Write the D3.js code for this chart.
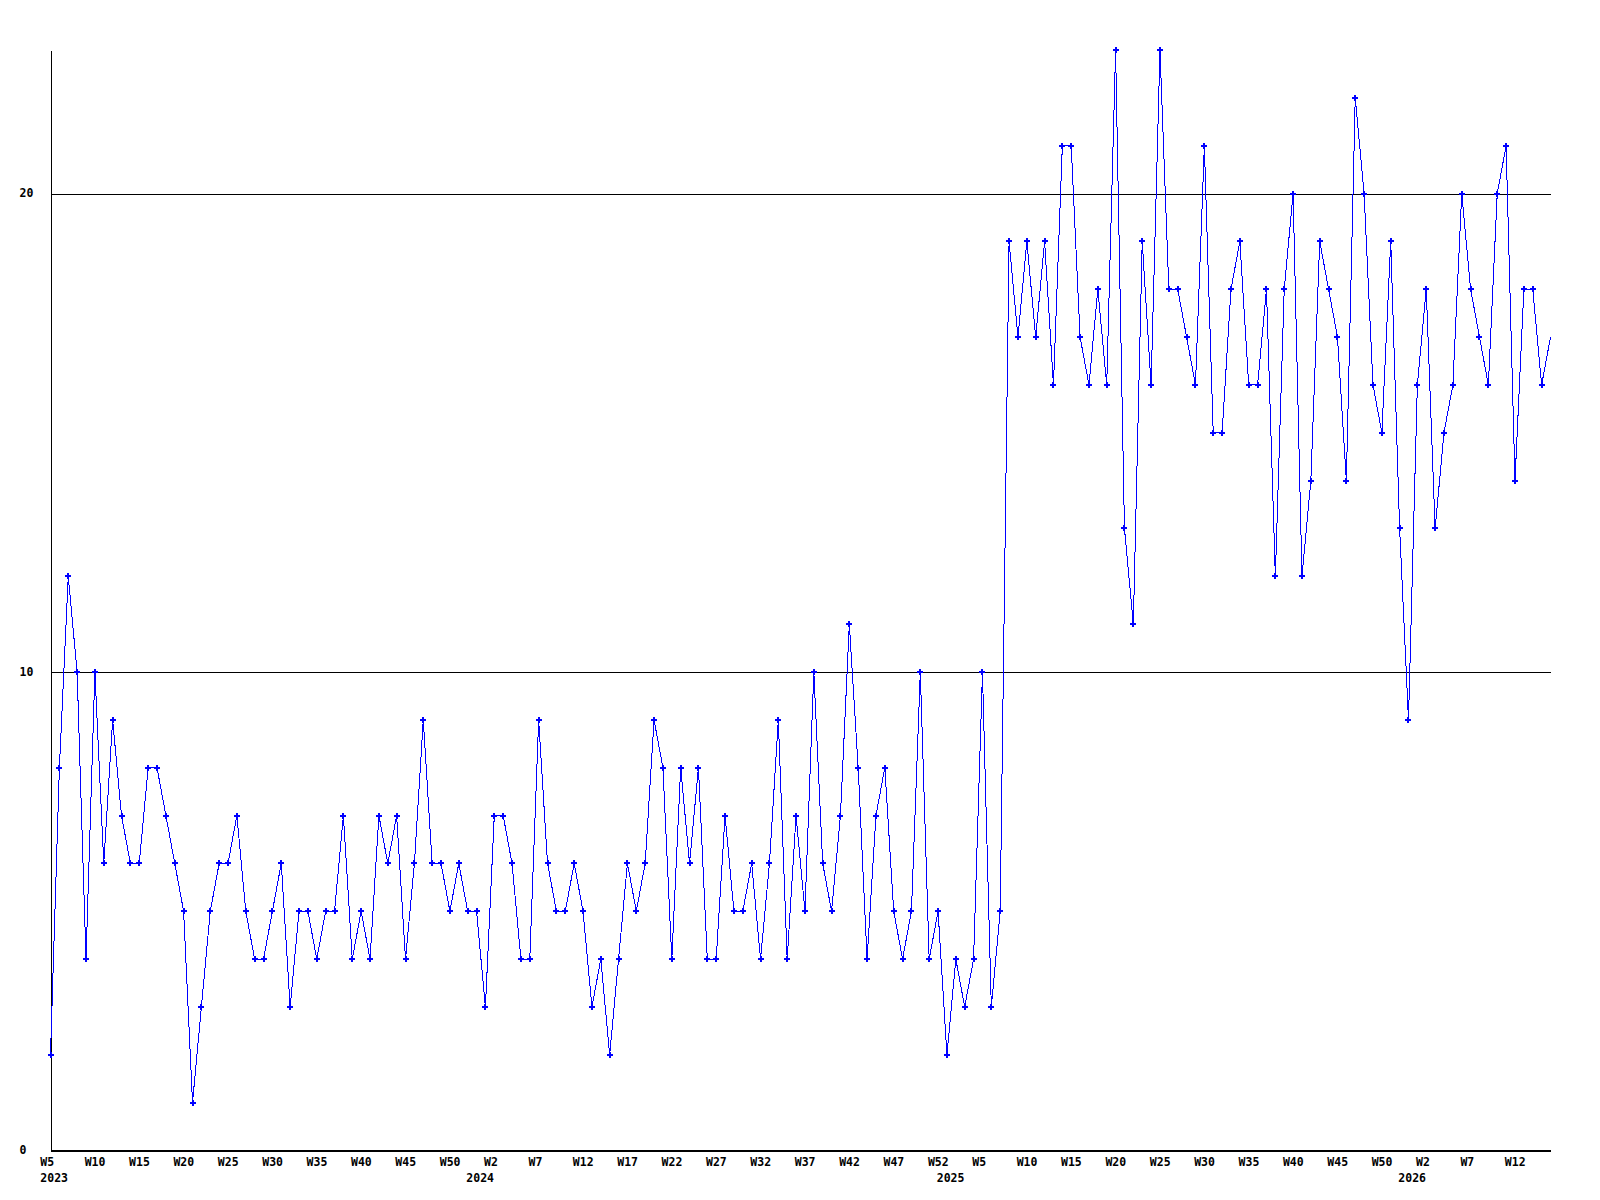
<!DOCTYPE html>
<html>
<head>
<meta charset="utf-8">
<script src="https://cdn.jsdelivr.net/npm/d3@7"></script>
<style>
  html, body { margin: 0; padding: 0; background: #ffffff; }
  svg { display: block; }
  text { font-family: "DejaVu Sans Mono", "Liberation Mono", monospace; font-weight: bold; font-size: 11.5px; fill: #000; }
</style>
</head>
<body>
<svg id="chart" width="1600" height="1200"></svg>
<script>
// Weekly counts, one value per week starting at W5 2023
const values2023 = [2,8,12,10,4,10,6,9,7,6,6,8,8,7,6,5,1,3,5,6,6,7,5,4,4,5,6,3,5,
  5,4,5,5,7,4,5,4,7,6,7,4,6,9,6,6,5,6,5];
const values2024 = [5,3,7,7,6,4,4,9,6,5,5,6,5,3,4,2,4,6,5,6,9,8,4,8,6,8,4,4,7,5,5,6,4,6,9,4,7,5,10,6,5,
  7,11,8,4,7,8,5,4,5,10,4,5];
const values2025 = [2,4,3,4,10,3,5,19,17,19,17,19,16,21,21,17,16,18,16,23,13,11,19,16,23,18,18,17,16,21,15,15,18,19,
  16,16,18,12,18,20,12,14,19,18,17,14,22,20,16,15,19,13];
const values2026 = [9,16,18,13,15,16,20,18,17,16,20,21,14,18,18,16,17];
const values = [].concat(values2023, values2024, values2025, values2026);

// Axis labels
const weekTickLabels = ["W5","W10","W15","W20","W25","W30","W35","W40","W45","W50",
  "W2","W7","W12","W17","W22","W27","W32","W37","W42","W47","W52",
  "W5","W10","W15","W20","W25","W30","W35","W40","W45","W50",
  "W2","W7","W12"];
const weekTickIndex = weekTickLabels.map((_, k) => k * 5);
const yearLabels = ["2023","2024","2025","2026"];
const yearIndex = [0, 48, 101, 153];
const yTicks = [0, 10, 20];

const svg = d3.select("#chart");
const mLeft = 50.5, mRight = 1550.5, mTop = 50, mBottom = 1150.5;

const x = d3.scaleLinear().domain([0, values.length - 1]).range([mLeft, mRight]);
const y = d3.scaleLinear().domain([0, d3.max(values)]).range([mBottom, mTop]);

// Y axis with gridlines
const yAxis = svg.append("g")
  .attr("transform", `translate(${mLeft},0)`)
  .call(d3.axisLeft(y).tickValues(yTicks).tickSize(-(mRight - mLeft + 0.5)).tickSizeOuter(0).tickPadding(0));
yAxis.select(".domain").attr("stroke", "#000").attr("shape-rendering", "crispEdges");
yAxis.selectAll(".tick line").attr("stroke", "#000").attr("shape-rendering", "crispEdges");
yAxis.selectAll(".tick text")
  .attr("text-anchor", "start")
  .attr("x", 19.5 - mLeft)
  .attr("dy", "0.3em")
  .style("font-family", '"DejaVu Sans Mono", monospace')
  .style("font-weight", "bold")
  .style("font-size", "11.5px");

// X axis (week labels)
const xAxis = svg.append("g")
  .attr("transform", `translate(0,${mBottom})`)
  .call(d3.axisBottom(x).tickValues(weekTickIndex)
    .tickFormat((d, k) => weekTickLabels[k]).tickSize(0).tickSizeOuter(0).tickPadding(0));
xAxis.select(".domain").attr("stroke", "#000").attr("shape-rendering", "crispEdges")
  .attr("d", `M${mLeft},0H${mRight + 0.5}`);
xAxis.selectAll(".tick text")
  .attr("text-anchor", "start")
  .attr("x", -10.7)
  .attr("y", 15.8)
  .attr("dy", 0)
  .style("font-family", '"DejaVu Sans Mono", monospace')
  .style("font-weight", "bold")
  .style("font-size", "11.5px");

// Year labels
const yrAxis = svg.append("g")
  .attr("transform", `translate(0,${mBottom})`)
  .call(d3.axisBottom(x).tickValues(yearIndex)
    .tickFormat((d, k) => yearLabels[k]).tickSize(0).tickSizeOuter(0).tickPadding(0));
yrAxis.select(".domain").remove();
yrAxis.selectAll(".tick text")
  .attr("text-anchor", "start")
  .attr("x", -10.7)
  .attr("y", 31)
  .attr("dy", 0)
  .style("font-family", '"DejaVu Sans Mono", monospace')
  .style("font-weight", "bold")
  .style("font-size", "11.5px");

// Clip to plot area
svg.append("clipPath").attr("id", "plotclip")
  .append("rect").attr("x", mLeft - 4).attr("y", mTop - 4)
  .attr("width", mRight + 0.5 - (mLeft - 4)).attr("height", mBottom - mTop + 8);

const plot = svg.append("g").attr("clip-path", "url(#plotclip)");

const line = d3.line().x((d, i) => x(i)).y(d => y(d));
plot.append("path")
  .datum(values)
  .attr("d", line)
  .attr("fill", "none")
  .attr("stroke", "#0000ff")
  .attr("stroke-width", 1)
  .attr("shape-rendering", "crispEdges");

const marker = d3.symbol().type(d3.symbolCross).size(20);
plot.selectAll("path.pt")
  .data(values.slice(0, values.length - 1))
  .join("path")
  .attr("class", "pt")
  .attr("transform", (d, i) => `translate(${x(i)},${y(d)})`)
  .attr("d", marker)
  .attr("fill", "#0000ff")
  .attr("shape-rendering", "crispEdges");
</script>
</body>
</html>
